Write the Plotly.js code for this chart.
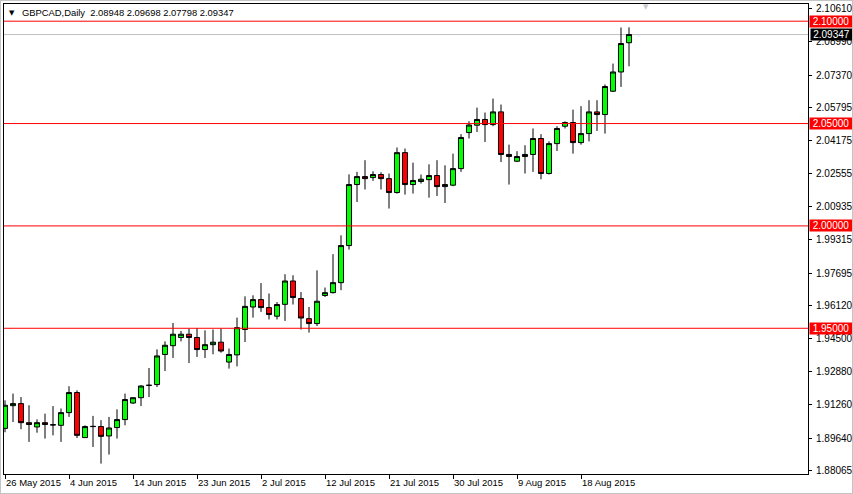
<!DOCTYPE html>
<html>
<head>
<meta charset="utf-8">
<script src="https://cdn.plot.ly/plotly-3.0.1.min.js"></script>
<style>
  html, body { margin:0; padding:0; background:#fff; }
  #wrap { position:relative; width:853px; height:494px; }
  #chart { width:853px; height:494px; }
  #frame { position:absolute; left:0; top:0; width:851px; height:492px; border:1px solid #c4c4c4; pointer-events:none; }
</style>
</head>
<body>
<div id="wrap"><div id="chart"></div><div id="frame"></div></div>
<script>
const dates = ["26 May 2015","27 May 2015","28 May 2015","29 May 2015","31 May 2015",
"1 Jun 2015","2 Jun 2015","3 Jun 2015","4 Jun 2015","5 Jun 2015","7 Jun 2015","8 Jun 2015","9 Jun 2015","10 Jun 2015","11 Jun 2015","12 Jun 2015",
"14 Jun 2015","15 Jun 2015","16 Jun 2015","17 Jun 2015","18 Jun 2015","19 Jun 2015","21 Jun 2015","22 Jun 2015","23 Jun 2015","24 Jun 2015","25 Jun 2015","26 Jun 2015",
"28 Jun 2015","29 Jun 2015","30 Jun 2015","1 Jul 2015","2 Jul 2015","3 Jul 2015","5 Jul 2015","6 Jul 2015","7 Jul 2015","8 Jul 2015","9 Jul 2015","10 Jul 2015",
"12 Jul 2015","13 Jul 2015","14 Jul 2015","15 Jul 2015","16 Jul 2015","17 Jul 2015","19 Jul 2015","20 Jul 2015","21 Jul 2015","22 Jul 2015","23 Jul 2015","24 Jul 2015",
"26 Jul 2015","27 Jul 2015","28 Jul 2015","29 Jul 2015","30 Jul 2015","31 Jul 2015","2 Aug 2015","3 Aug 2015","4 Aug 2015","5 Aug 2015","6 Aug 2015","7 Aug 2015",
"9 Aug 2015","10 Aug 2015","11 Aug 2015","12 Aug 2015","13 Aug 2015","14 Aug 2015","16 Aug 2015","17 Aug 2015","18 Aug 2015","19 Aug 2015","20 Aug 2015","21 Aug 2015",
"23 Aug 2015","24 Aug 2015","25 Aug 2015"];

const openP = [1.9011,1.9122,1.9132,1.9039,1.9018,1.9039,1.9029,1.9026,1.9088,1.9186,
1.8966,1.9021,1.9020,1.8974,1.9015,1.9054,1.9135,1.9161,1.9222,1.9225,
1.9372,1.9415,1.9455,1.9471,1.9455,1.9396,1.9420,1.9432,1.9335,1.9370,
1.9494,1.9604,1.9640,1.9601,1.9559,1.9617,1.9731,1.9645,1.9547,1.9523,
1.9660,1.9674,1.9723,1.9904,2.0202,2.0241,2.0236,2.0251,2.0231,2.0163,
2.0358,2.0202,2.0217,2.0226,2.0246,2.0192,2.0199,2.0280,2.0456,2.0492,
2.0520,2.0495,2.0557,2.0349,2.0316,2.0339,2.0349,2.0427,2.0256,2.0402,
2.0487,2.0505,2.0407,2.0451,2.0557,2.0544,2.0658,2.0752,2.08948];
const highP = [1.9148,1.9181,1.9164,1.9124,1.9055,1.9083,1.9120,1.9108,1.9217,1.9197,
1.9026,1.9072,1.9051,1.9067,1.9104,1.9181,1.9161,1.9222,1.9306,1.9397,
1.9436,1.9526,1.9487,1.9499,1.9501,1.9490,1.9494,1.9499,1.9401,1.9552,
1.9656,1.9661,1.9721,1.9670,1.9628,1.9764,1.9759,1.9677,1.9604,1.9783,
1.9699,1.9862,1.9954,2.0252,2.0264,2.0321,2.0267,2.0262,2.0256,2.0383,
2.0378,2.0309,2.0251,2.0301,2.0321,2.0296,2.0353,2.0448,2.0511,2.0578,
2.0554,2.0622,2.0593,2.0397,2.0365,2.0394,2.0476,2.0448,2.0413,2.0487,
2.0511,2.0568,2.0585,2.0614,2.0614,2.0691,2.0793,2.0969,2.09698];
const lowP = [1.8992,1.9042,1.9007,1.8945,1.8990,1.8961,1.8977,1.8945,1.9067,1.8964,
1.8964,1.8920,1.8839,1.8883,1.8961,1.9026,1.9130,1.9120,1.9164,1.9213,
1.9291,1.9355,1.9436,1.9330,1.9360,1.9355,1.9373,1.9381,1.9303,1.9314,
1.9433,1.9552,1.9580,1.9543,1.9543,1.9536,1.9616,1.9494,1.9479,1.9511,
1.9653,1.9670,1.9686,1.9884,2.0117,2.0178,2.0220,2.0178,2.0085,2.0158,
2.0153,2.0158,2.0207,2.0138,2.0146,2.0112,2.0194,2.0264,2.0427,2.0459,
2.0410,2.0487,2.0312,2.0202,2.0312,2.0256,2.0264,2.0228,2.0251,2.0366,
2.0476,2.0353,2.0397,2.0413,2.0464,2.0451,2.0654,2.0679,2.07798];
const closeP = [1.9124,1.9132,1.9039,1.9030,1.9039,1.9030,1.9028,1.9088,1.9186,1.8977,
1.9020,1.9020,1.8972,1.9013,1.9054,1.9152,1.9161,1.9218,1.9221,1.9365,
1.9417,1.9471,1.9471,1.9455,1.9396,1.9420,1.9432,1.9389,1.9372,1.9503,
1.9607,1.9640,1.9601,1.9567,1.9616,1.9731,1.9650,1.9550,1.9523,1.9632,
1.9674,1.9723,1.9904,2.0202,2.0241,2.0231,2.0251,2.0231,2.0163,2.0358,
2.0202,2.0222,2.0228,2.0246,2.0192,2.0202,2.0280,2.0432,2.0493,2.0520,
2.0495,2.0557,2.0349,2.0339,2.0339,2.0349,2.0427,2.0256,2.0402,2.0476,
2.0505,2.0407,2.0451,2.0557,2.0544,2.0681,2.0752,2.0891,2.09347];

const xTickLabels = ["26 May 2015","4 Jun 2015","14 Jun 2015","23 Jun 2015","2 Jul 2015","12 Jul 2015","21 Jul 2015","30 Jul 2015","9 Aug 2015","18 Aug 2015"];
const yTickVals = [2.10610,2.08990,2.07370,2.05795,2.04175,2.02555,2.00935,1.99315,1.97695,1.96120,1.94500,1.92880,1.91260,1.89640,1.88065];
const levelLines = [2.10, 2.05, 2.00, 1.95];
const bidPrice = 2.09347;
const headerText = "GBPCAD,Daily  2.08948 2.09698 2.07798 2.09347";

const FONT = "Liberation Sans, Arial, sans-serif";

const trace = {
  type: 'candlestick',
  x: dates, open: openP, high: highP, low: lowP, close: closeP,
  increasing: {line: {color: '#000000', width: 1}, fillcolor: '#00ff00'},
  decreasing: {line: {color: '#000000', width: 1}, fillcolor: '#ff0000'},
  whiskerwidth: 0,
  hoverinfo: 'skip'
};

const shapes = levelLines.map(v => ({
  type: 'line', xref: 'paper', x0: 0, x1: 1, yref: 'y', y0: v, y1: v,
  line: {color: '#ff0000', width: 1}, layer: 'above'
}));
shapes.unshift({
  type: 'line', xref: 'paper', x0: 0, x1: 1, yref: 'y', y0: bidPrice, y1: bidPrice,
  line: {color: '#c0c0c0', width: 1}, layer: 'below'
});

const annotations = levelLines.map(v => ({
  xref: 'paper', x: 1, xanchor: 'left', xshift: 1,
  yref: 'y', y: v, yanchor: 'middle',
  text: v.toFixed(5), showarrow: false, bgcolor: '#ff0000',
  font: {color: '#ffffff', size: 10, family: FONT},
  width: 42, height: 11, align: 'center', borderpad: 0
}));
annotations.push({
  xref: 'paper', x: 1, xanchor: 'left', xshift: 2,
  yref: 'y', y: bidPrice, yanchor: 'middle',
  text: bidPrice.toFixed(5), showarrow: false, bgcolor: '#000000',
  font: {color: '#ffffff', size: 10, family: FONT},
  width: 41, height: 11, align: 'center', borderpad: 0
});
annotations.push({
  xref: 'paper', x: (20 - 4) / 804, xanchor: 'left',
  yref: 'paper', y: 1, yanchor: 'middle', yshift: -8.7,
  text: headerText, showarrow: false,
  font: {color: '#000000', size: 9.4, family: FONT}
});
annotations.push({
  xref: 'paper', x: (11.5 - 4) / 804, xanchor: 'center',
  yref: 'paper', y: 1, yanchor: 'middle', yshift: -8.5,
  text: '▼', showarrow: false,
  font: {color: '#000000', size: 7, family: 'DejaVu Sans, sans-serif'}
});
annotations.push({
  xref: 'paper', x: (646 - 4) / 804, xanchor: 'center',
  yref: 'paper', y: 1, yanchor: 'middle', yshift: -3,
  text: '▼', showarrow: false,
  font: {color: '#c8c8c8', size: 7, family: 'DejaVu Sans, sans-serif'}
});

const layout = {
  width: 853, height: 494,
  margin: {l: 4, r: 45, t: 4, b: 20, pad: 0},
  paper_bgcolor: '#ffffff', plot_bgcolor: '#ffffff',
  showlegend: false,
  boxgap: 0.3, boxgroupgap: 0.1,
  font: {family: FONT, size: 10, color: '#000000'},
  xaxis: {
    type: 'category',
    range: [-0.125, 100.375],
    rangeslider: {visible: false},
    showgrid: false, zeroline: false,
    showline: true, linecolor: '#000000', linewidth: 1, mirror: true,
    ticks: 'outside', ticklen: 4, tickcolor: '#000000', tickwidth: 1,
    tickmode: 'array', tickvals: xTickLabels, ticktext: xTickLabels,
    ticklabelposition: 'outside right', tickangle: 0,
    tickfont: {size: 9.5, family: FONT, color: '#000000'},
    fixedrange: true
  },
  yaxis: {
    side: 'right',
    range: [1.87882, 2.10840],
    showgrid: false, zeroline: false,
    showline: true, linecolor: '#000000', linewidth: 1, mirror: true,
    ticks: 'outside', ticklen: 3, tickcolor: '#000000', tickwidth: 1,
    tickmode: 'array', tickvals: yTickVals, ticktext: yTickVals.map(v => v.toFixed(5)),
    tickfont: {size: 10, family: FONT, color: '#000000'},
    ticklabelstandoff: 2,
    fixedrange: true
  },
  shapes: shapes,
  annotations: annotations
};

Plotly.newPlot('chart', [trace], layout, {displayModeBar: false, staticPlot: true});
</script>
</body>
</html>
